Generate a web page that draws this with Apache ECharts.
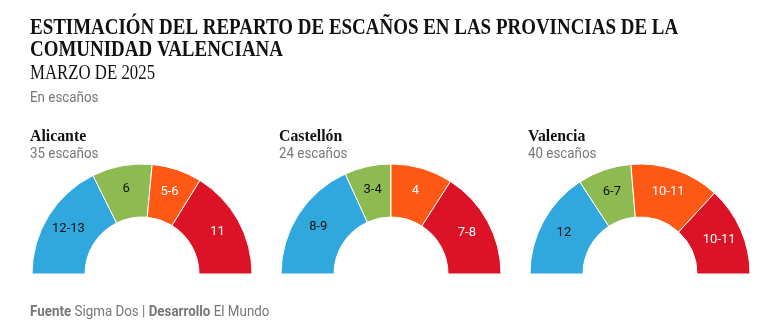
<!DOCTYPE html>
<html>
<head>
<meta charset="utf-8">
<script src="https://cdn.jsdelivr.net/npm/echarts@6/dist/echarts.min.js"></script>
<style>
  html, body { margin: 0; padding: 0; background: #fff; }
  #chart { width: 763px; height: 324px; }
</style>
</head>
<body>
<div id="chart"></div>
<script>
// Party order in every half-donut (left to right)
const parties = ['PP', 'Vox', 'Compromís', 'PSPV'];
const partyColors = ['#30a8de', '#8dbb51', '#fe5815', '#dc1226'];
const labelColors = ['#111111', '#111111', '#ffffff', '#ffffff'];

const provinces = ['Alicante', 'Castellón', 'Valencia'];
const totalSeats = [35, 24, 40];

// Seat estimates as ranges: low and high bound per party
const alicanteLow = [12, 6, 5, 11];
const alicanteHigh = [13, 6, 6, 11];
const castellonLow = [8, 3, 4, 7];
const castellonHigh = [9, 4, 4, 8];
const valenciaLow = [12, 6, 10, 10];
const valenciaHigh = [12, 7, 11, 11];

const lows = [alicanteLow, castellonLow, valenciaLow];
const highs = [alicanteHigh, castellonHigh, valenciaHigh];

const centersX = [142, 391, 640];
const centerY = 274;
const headerX = [30, 279, 528];

const SERIF = '"Liberation Serif", "Times New Roman", serif';
const SANS = 'Roboto, "Noto Sans", sans-serif';

function rangeLabel(lo, hi) {
  return lo === hi ? String(lo) : lo + '-' + hi;
}

const series = provinces.map((name, p) => ({
  type: 'pie',
  name: name,
  center: [centersX[p], centerY],
  radius: [57, 110],
  startAngle: 180,
  endAngle: 0,
  clockwise: true,
  silent: true,
  animation: false,
  itemStyle: { borderColor: '#ffffff', borderWidth: 1 },
  label: {
    show: true,
    position: 'inside',
    fontFamily: SANS,
    fontSize: 13,
    formatter: (d) => rangeLabel(lows[p][d.dataIndex], highs[p][d.dataIndex])
  },
  labelLine: { show: false },
  data: parties.map((party, i) => ({
    name: party,
    value: lows[p][i],
    itemStyle: { color: partyColors[i] },
    label: { color: labelColors[i] }
  }))
}));

// Text helper: positioned by its baseline (line box bottom sits ~a quarter em below it),
// optionally narrowed horizontally
function textEl(str, x, baseline, size, weight, family, fill, scaleX, rich) {
  const style = {
    text: str, x: 0, y: 0,
    font: weight + ' ' + size + 'px ' + family,
    fill: fill,
    verticalAlign: 'bottom'
  };
  if (rich) style.rich = rich;
  return {
    type: 'text',
    x: x, y: baseline + size * 0.25,
    scaleX: scaleX || 1,
    silent: true,
    style: style
  };
}

const GREY_SCALE = 0.955;

const graphics = [
  textEl('ESTIMACIÓN DEL REPARTO DE ESCAÑOS EN LAS PROVINCIAS DE LA', 30, 34, 24, 'bold', SERIF, '#111', 0.79),
  textEl('COMUNIDAD VALENCIANA', 30, 56, 24, 'bold', SERIF, '#111', 0.79),
  textEl('MARZO DE 2025', 30, 79, 20, 'normal', SERIF, '#111', 0.84),
  textEl('En escaños', 30, 102, 14, 'normal', SANS, '#777', GREY_SCALE),
  textEl('{b|Fuente} Sigma Dos | {b|Desarrollo} El Mundo', 30, 316, 14, 'normal', SANS, '#777', GREY_SCALE,
    { b: { font: 'bold 14px ' + SANS, fill: '#777' } })
];

provinces.forEach((name, p) => {
  graphics.push(textEl(name, headerX[p], 141, 17, 'bold', SERIF, '#111', 0.93));
  graphics.push(textEl(totalSeats[p] + ' escaños', headerX[p], 158, 14, 'normal', SANS, '#777', GREY_SCALE));
});

const chart = echarts.init(document.getElementById('chart'), null, { renderer: 'canvas' });
chart.setOption({
  backgroundColor: '#ffffff',
  graphic: graphics,
  series: series
});
</script>
</body>
</html>
